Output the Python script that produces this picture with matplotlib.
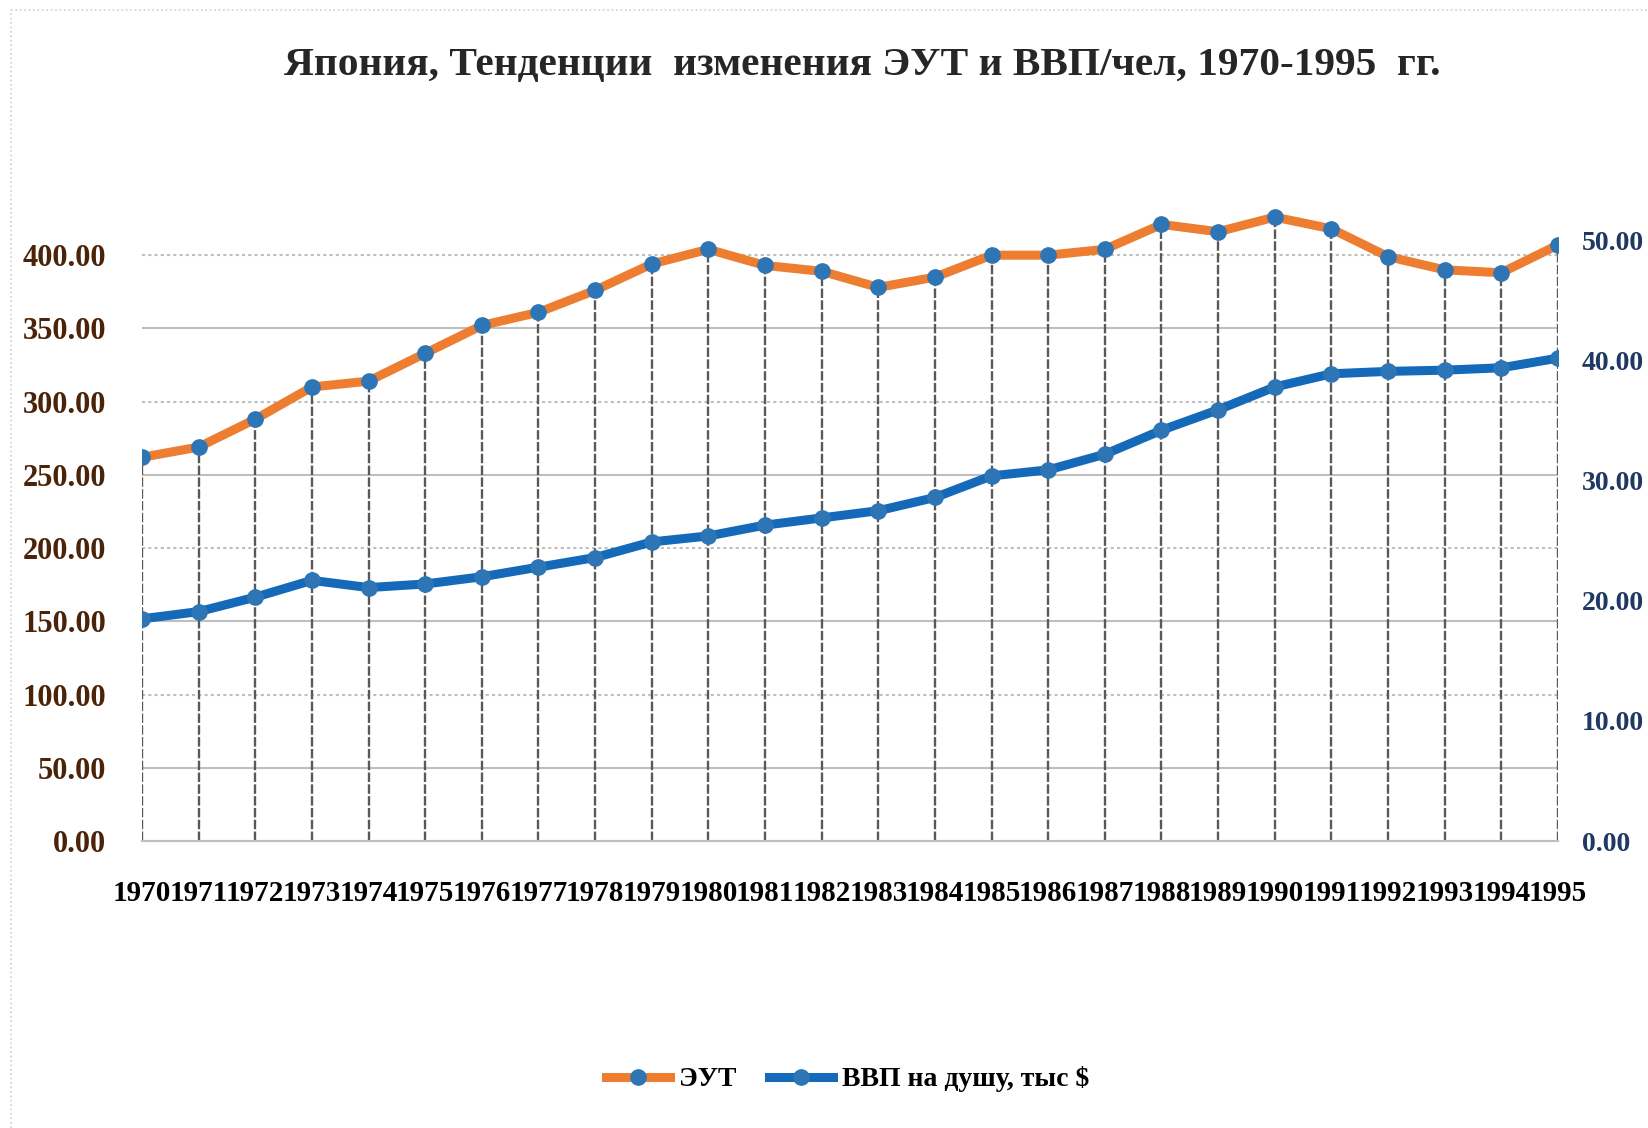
import matplotlib
matplotlib.use('Agg')
import matplotlib.pyplot as plt
from matplotlib.lines import Line2D

# data
years = list(range(1970, 1996))
eut = [262, 269, 288, 310, 314, 333, 352, 361, 376, 394, 404, 393, 389,
       378, 385, 400, 400, 404, 421, 416, 426, 418, 399, 390, 388, 407]
gdp = [18.5, 19.1, 20.3, 21.7, 21.1, 21.4, 22.0, 22.8, 23.6, 24.9, 25.4, 26.3, 26.9,
       27.5, 28.6, 30.4, 30.9, 32.2, 34.2, 35.9, 37.8, 38.9, 39.1, 39.2, 39.4, 40.2]
left_ticks = [0, 50, 100, 150, 200, 250, 300, 350, 400]
right_ticks = [0, 10, 20, 30, 40, 50]

title = 'Япония, Тенденции  изменения ЭУТ и ВВП/чел, 1970-1995  гг.'
label_eut = 'ЭУТ'
label_gdp = 'ВВП на душу, тыс $'

ORANGE = '#ED7D31'
BLUE = '#1469B8'
MARKER = '#2E75B6'
FONT = 'Liberation Serif'

plt.rcParams['font.family'] = [FONT, 'DejaVu Serif']
plt.rcParams['font.weight'] = 'bold'

fig = plt.figure(figsize=(16.49, 11.28), dpi=100)
ax1 = fig.add_axes([0.0861, 0.2544, 0.8587, 0.5843])
ax2 = ax1.twinx()

# gridlines: solid / dotted alternating
for v in left_ticks[1:]:
    ls = (0, (1.5, 1.5)) if v % 100 == 0 else '-'
    ax1.axhline(v, color='#bfbfbf', lw=1.5, ls=ls, zorder=0)

# drop lines
ax1.vlines(years, 0, eut, colors='#595959', lw=1.7, linestyles=(0, (4, 1)), zorder=1)

ax1.plot(years, eut, color=ORANGE, lw=6.5, marker='o', ms=11,
         mfc=MARKER, mec=MARKER, zorder=3, label=label_eut)
ax2.plot(years, gdp, color=BLUE, lw=6.5, marker='o', ms=11,
         mfc=MARKER, mec=MARKER, zorder=3, label=label_gdp)

ax1.set_xlim(1970, 1995)
ax1.set_ylim(0, 450)
ax2.set_ylim(0, 54.87)

ax1.set_xticks(years)
ax1.set_xticklabels([str(y) for y in years], fontsize=21, fontweight='bold', color='black')
ax1.set_yticks(left_ticks)
ax1.set_yticklabels([f'{v:.2f}' for v in left_ticks], fontsize=22, fontweight='bold', color='#4a2308')
ax2.set_yticks(right_ticks)
ax2.set_yticklabels([f'{v:.2f}' for v in right_ticks], fontsize=20, fontweight='bold', color='#1f3864')

ax1.tick_params(axis='x', length=0, pad=28)
ax1.tick_params(axis='y', length=0, pad=26)
ax2.tick_params(axis='y', length=0, pad=17)

for a in (ax1, ax2):
    for s in ('top', 'left', 'right'):
        a.spines[s].set_visible(False)
    a.spines['bottom'].set_color('#bfbfbf')
    a.spines['bottom'].set_linewidth(1.5)
    a.patch.set_visible(False)

# title, fitted to the width in the reference
t = fig.text(0.523, 0.942, title, ha='center', va='center',
             fontsize=30, fontweight='bold', color='#262626')
fig.canvas.draw()
w = t.get_window_extent().width
t.set_fontsize(30 * 1157 / w)

# legend
handles = [Line2D([], [], color=ORANGE, lw=6.5, marker='o', ms=11, mfc=MARKER, mec=MARKER),
           Line2D([], [], color=BLUE, lw=6.5, marker='o', ms=11, mfc=MARKER, mec=MARKER)]
fig.legend(handles, [label_eut, label_gdp], loc='center', bbox_to_anchor=(0.514, 0.043),
           ncol=2, frameon=False, prop={'size': 20, 'weight': 'bold'},
           handlelength=2.3, columnspacing=1.2, handletextpad=0.3)

# faint chart border
fig.add_artist(Line2D([0.0064, 0.0064], [0, 0.9907], transform=fig.transFigure,
                      color='#d0d0d0', lw=1.2, ls=':'))
fig.add_artist(Line2D([0.0064, 1], [0.9907, 0.9907], transform=fig.transFigure,
                      color='#d0d0d0', lw=1.2, ls=':'))

fig.savefig('out.png', dpi=100)
